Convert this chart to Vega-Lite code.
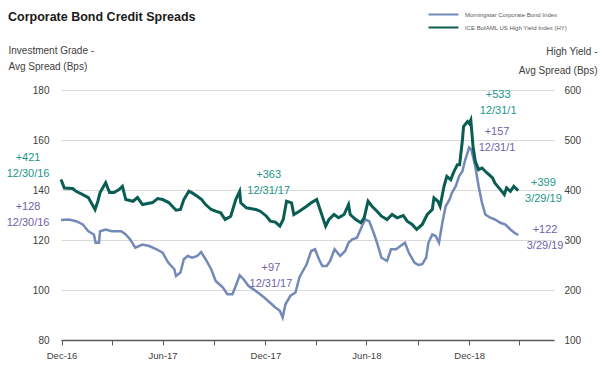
{
  "$schema": "https://vega.github.io/schema/vega-lite/v6.json",
  "width": 493,
  "height": 250,
  "autosize": {"type": "none"},
  "padding": {"left": 61, "top": 90, "right": 46, "bottom": 48},
  "background": "white",
  "title": {
    "text": "Corporate Bond Credit Spreads",
    "anchor": "start",
    "frame": "group",
    "dx": -53,
    "dy": 21,
    "font": "Liberation Sans Narrow, Liberation Sans, sans-serif",
    "fontSize": 12.5,
    "fontWeight": "bold",
    "color": "#1a1a1a"
  },
  "config": {
    "view": {"stroke": null},
    "font": "Liberation Sans Narrow, Liberation Sans, sans-serif"
  },
  "datasets": {
    "series": [
      {"d": "2016-12-30", "s": "IG", "v": 128},
      {"d": "2017-01-13", "s": "IG", "v": 128.2},
      {"d": "2017-01-26", "s": "IG", "v": 127.5},
      {"d": "2017-02-07", "s": "IG", "v": 126.2},
      {"d": "2017-02-17", "s": "IG", "v": 123.5},
      {"d": "2017-02-27", "s": "IG", "v": 122.2},
      {"d": "2017-03-02", "s": "IG", "v": 118.9},
      {"d": "2017-03-08", "s": "IG", "v": 118.9},
      {"d": "2017-03-10", "s": "IG", "v": 123.5},
      {"d": "2017-03-20", "s": "IG", "v": 124.2},
      {"d": "2017-03-31", "s": "IG", "v": 123.5},
      {"d": "2017-04-17", "s": "IG", "v": 123.5},
      {"d": "2017-04-25", "s": "IG", "v": 122.2},
      {"d": "2017-05-03", "s": "IG", "v": 120.2},
      {"d": "2017-05-12", "s": "IG", "v": 116.9},
      {"d": "2017-05-25", "s": "IG", "v": 118.2},
      {"d": "2017-06-06", "s": "IG", "v": 117.6},
      {"d": "2017-06-19", "s": "IG", "v": 116.3},
      {"d": "2017-06-30", "s": "IG", "v": 114.9},
      {"d": "2017-07-10", "s": "IG", "v": 111},
      {"d": "2017-07-21", "s": "IG", "v": 108.3},
      {"d": "2017-07-24", "s": "IG", "v": 105.6},
      {"d": "2017-08-01", "s": "IG", "v": 107},
      {"d": "2017-08-07", "s": "IG", "v": 112.3},
      {"d": "2017-08-14", "s": "IG", "v": 113.6},
      {"d": "2017-08-22", "s": "IG", "v": 112.9},
      {"d": "2017-08-31", "s": "IG", "v": 113.6},
      {"d": "2017-09-07", "s": "IG", "v": 115.2},
      {"d": "2017-09-15", "s": "IG", "v": 112.3},
      {"d": "2017-09-25", "s": "IG", "v": 108.3},
      {"d": "2017-10-03", "s": "IG", "v": 103.6},
      {"d": "2017-10-16", "s": "IG", "v": 101},
      {"d": "2017-10-24", "s": "IG", "v": 98.3},
      {"d": "2017-11-02", "s": "IG", "v": 98.3},
      {"d": "2017-11-08", "s": "IG", "v": 101.6},
      {"d": "2017-11-15", "s": "IG", "v": 105.9},
      {"d": "2017-11-22", "s": "IG", "v": 104.3},
      {"d": "2017-12-01", "s": "IG", "v": 101.6},
      {"d": "2017-12-14", "s": "IG", "v": 99.6},
      {"d": "2017-12-29", "s": "IG", "v": 97},
      {"d": "2018-01-08", "s": "IG", "v": 95},
      {"d": "2018-01-18", "s": "IG", "v": 93},
      {"d": "2018-01-26", "s": "IG", "v": 91.7},
      {"d": "2018-01-31", "s": "IG", "v": 89},
      {"d": "2018-02-05", "s": "IG", "v": 94.3},
      {"d": "2018-02-14", "s": "IG", "v": 97.7},
      {"d": "2018-02-23", "s": "IG", "v": 99},
      {"d": "2018-03-02", "s": "IG", "v": 105},
      {"d": "2018-03-05", "s": "IG", "v": 106.3},
      {"d": "2018-03-15", "s": "IG", "v": 110.3},
      {"d": "2018-03-23", "s": "IG", "v": 115.6},
      {"d": "2018-03-30", "s": "IG", "v": 116.3},
      {"d": "2018-04-06", "s": "IG", "v": 112.3},
      {"d": "2018-04-12", "s": "IG", "v": 109.6},
      {"d": "2018-04-20", "s": "IG", "v": 109.6},
      {"d": "2018-04-26", "s": "IG", "v": 111.6},
      {"d": "2018-05-04", "s": "IG", "v": 116.3},
      {"d": "2018-05-14", "s": "IG", "v": 113.6},
      {"d": "2018-05-23", "s": "IG", "v": 115.6},
      {"d": "2018-05-29", "s": "IG", "v": 118.9},
      {"d": "2018-06-04", "s": "IG", "v": 120.2},
      {"d": "2018-06-13", "s": "IG", "v": 120.9},
      {"d": "2018-06-22", "s": "IG", "v": 125.5},
      {"d": "2018-06-28", "s": "IG", "v": 128.2},
      {"d": "2018-07-05", "s": "IG", "v": 127.5},
      {"d": "2018-07-13", "s": "IG", "v": 122.9},
      {"d": "2018-07-19", "s": "IG", "v": 118.9},
      {"d": "2018-07-27", "s": "IG", "v": 112.9},
      {"d": "2018-08-06", "s": "IG", "v": 111.6},
      {"d": "2018-08-13", "s": "IG", "v": 116.3},
      {"d": "2018-08-22", "s": "IG", "v": 116.3},
      {"d": "2018-08-30", "s": "IG", "v": 117.6},
      {"d": "2018-09-07", "s": "IG", "v": 118.9},
      {"d": "2018-09-14", "s": "IG", "v": 114.9},
      {"d": "2018-09-24", "s": "IG", "v": 111},
      {"d": "2018-10-01", "s": "IG", "v": 110},
      {"d": "2018-10-08", "s": "IG", "v": 110.3},
      {"d": "2018-10-15", "s": "IG", "v": 112.9},
      {"d": "2018-10-19", "s": "IG", "v": 118.9},
      {"d": "2018-10-26", "s": "IG", "v": 122.2},
      {"d": "2018-11-01", "s": "IG", "v": 121.6},
      {"d": "2018-11-07", "s": "IG", "v": 118.9},
      {"d": "2018-11-13", "s": "IG", "v": 126.9},
      {"d": "2018-11-19", "s": "IG", "v": 133.5},
      {"d": "2018-11-26", "s": "IG", "v": 136.2},
      {"d": "2018-11-30", "s": "IG", "v": 138.8},
      {"d": "2018-12-07", "s": "IG", "v": 141.5},
      {"d": "2018-12-13", "s": "IG", "v": 145.5},
      {"d": "2018-12-19", "s": "IG", "v": 147.5},
      {"d": "2018-12-24", "s": "IG", "v": 152.1},
      {"d": "2018-12-31", "s": "IG", "v": 157},
      {"d": "2019-01-04", "s": "IG", "v": 156.1},
      {"d": "2019-01-11", "s": "IG", "v": 149.4},
      {"d": "2019-01-17", "s": "IG", "v": 141.5},
      {"d": "2019-01-23", "s": "IG", "v": 134.9},
      {"d": "2019-01-29", "s": "IG", "v": 130.2},
      {"d": "2019-02-07", "s": "IG", "v": 128.9},
      {"d": "2019-02-15", "s": "IG", "v": 128.2},
      {"d": "2019-02-25", "s": "IG", "v": 126.9},
      {"d": "2019-03-06", "s": "IG", "v": 126.2},
      {"d": "2019-03-15", "s": "IG", "v": 124.2},
      {"d": "2019-03-22", "s": "IG", "v": 122.9},
      {"d": "2019-03-29", "s": "IG", "v": 122},
      {"d": "2016-12-30", "s": "HY", "v": 421},
      {"d": "2017-01-05", "s": "HY", "v": 404},
      {"d": "2017-01-20", "s": "HY", "v": 403},
      {"d": "2017-01-26", "s": "HY", "v": 397.4},
      {"d": "2017-02-07", "s": "HY", "v": 390.8},
      {"d": "2017-02-17", "s": "HY", "v": 384.9},
      {"d": "2017-03-01", "s": "HY", "v": 361},
      {"d": "2017-03-06", "s": "HY", "v": 377.5},
      {"d": "2017-03-10", "s": "HY", "v": 394.8},
      {"d": "2017-03-20", "s": "HY", "v": 414.7},
      {"d": "2017-03-27", "s": "HY", "v": 394.8},
      {"d": "2017-04-04", "s": "HY", "v": 394.8},
      {"d": "2017-04-13", "s": "HY", "v": 400.8},
      {"d": "2017-04-19", "s": "HY", "v": 407.4},
      {"d": "2017-04-25", "s": "HY", "v": 380.9},
      {"d": "2017-05-08", "s": "HY", "v": 377.5},
      {"d": "2017-05-16", "s": "HY", "v": 384.9},
      {"d": "2017-05-25", "s": "HY", "v": 370.9},
      {"d": "2017-06-12", "s": "HY", "v": 374.9},
      {"d": "2017-06-21", "s": "HY", "v": 382.9},
      {"d": "2017-06-30", "s": "HY", "v": 380.9},
      {"d": "2017-07-11", "s": "HY", "v": 374.9},
      {"d": "2017-07-24", "s": "HY", "v": 359.6},
      {"d": "2017-08-01", "s": "HY", "v": 361},
      {"d": "2017-08-07", "s": "HY", "v": 380.9},
      {"d": "2017-08-16", "s": "HY", "v": 397.4},
      {"d": "2017-08-22", "s": "HY", "v": 394.2},
      {"d": "2017-08-31", "s": "HY", "v": 387.5},
      {"d": "2017-09-08", "s": "HY", "v": 380.9},
      {"d": "2017-09-15", "s": "HY", "v": 370.9},
      {"d": "2017-09-25", "s": "HY", "v": 361},
      {"d": "2017-10-03", "s": "HY", "v": 357.6},
      {"d": "2017-10-12", "s": "HY", "v": 354.4},
      {"d": "2017-10-20", "s": "HY", "v": 341},
      {"d": "2017-10-30", "s": "HY", "v": 347.6},
      {"d": "2017-11-08", "s": "HY", "v": 380.9},
      {"d": "2017-11-15", "s": "HY", "v": 397.4},
      {"d": "2017-11-17", "s": "HY", "v": 374.3},
      {"d": "2017-11-27", "s": "HY", "v": 364.3},
      {"d": "2017-12-14", "s": "HY", "v": 361},
      {"d": "2017-12-22", "s": "HY", "v": 357.6},
      {"d": "2018-01-02", "s": "HY", "v": 347.6},
      {"d": "2018-01-09", "s": "HY", "v": 337.7},
      {"d": "2018-01-18", "s": "HY", "v": 335.7},
      {"d": "2018-01-26", "s": "HY", "v": 327.7},
      {"d": "2018-02-01", "s": "HY", "v": 341},
      {"d": "2018-02-07", "s": "HY", "v": 377.5},
      {"d": "2018-02-16", "s": "HY", "v": 374.3},
      {"d": "2018-02-20", "s": "HY", "v": 351},
      {"d": "2018-03-02", "s": "HY", "v": 357.6},
      {"d": "2018-03-15", "s": "HY", "v": 367.5},
      {"d": "2018-03-23", "s": "HY", "v": 374.3},
      {"d": "2018-04-02", "s": "HY", "v": 380.9},
      {"d": "2018-04-09", "s": "HY", "v": 357.6},
      {"d": "2018-04-18", "s": "HY", "v": 327.7},
      {"d": "2018-04-24", "s": "HY", "v": 341},
      {"d": "2018-05-03", "s": "HY", "v": 351},
      {"d": "2018-05-11", "s": "HY", "v": 344.4},
      {"d": "2018-05-21", "s": "HY", "v": 351},
      {"d": "2018-05-29", "s": "HY", "v": 370.9},
      {"d": "2018-06-01", "s": "HY", "v": 351},
      {"d": "2018-06-11", "s": "HY", "v": 341},
      {"d": "2018-06-20", "s": "HY", "v": 334.5},
      {"d": "2018-06-26", "s": "HY", "v": 344.4},
      {"d": "2018-07-03", "s": "HY", "v": 377.5},
      {"d": "2018-07-10", "s": "HY", "v": 367.5},
      {"d": "2018-07-19", "s": "HY", "v": 357.6},
      {"d": "2018-07-27", "s": "HY", "v": 347.6},
      {"d": "2018-08-06", "s": "HY", "v": 341},
      {"d": "2018-08-15", "s": "HY", "v": 351},
      {"d": "2018-08-24", "s": "HY", "v": 344.4},
      {"d": "2018-09-04", "s": "HY", "v": 349},
      {"d": "2018-09-11", "s": "HY", "v": 337.7},
      {"d": "2018-09-20", "s": "HY", "v": 331.1},
      {"d": "2018-09-28", "s": "HY", "v": 321.1},
      {"d": "2018-10-08", "s": "HY", "v": 331.1},
      {"d": "2018-10-17", "s": "HY", "v": 351},
      {"d": "2018-10-26", "s": "HY", "v": 361},
      {"d": "2018-10-29", "s": "HY", "v": 384.3},
      {"d": "2018-11-05", "s": "HY", "v": 377.5},
      {"d": "2018-11-09", "s": "HY", "v": 367.5},
      {"d": "2018-11-16", "s": "HY", "v": 407.4},
      {"d": "2018-11-21", "s": "HY", "v": 427.3},
      {"d": "2018-11-28", "s": "HY", "v": 420.7},
      {"d": "2018-12-04", "s": "HY", "v": 437.3},
      {"d": "2018-12-10", "s": "HY", "v": 450.6},
      {"d": "2018-12-14", "s": "HY", "v": 450.6},
      {"d": "2018-12-19", "s": "HY", "v": 500.4},
      {"d": "2018-12-21", "s": "HY", "v": 526.9},
      {"d": "2018-12-28", "s": "HY", "v": 536.9},
      {"d": "2018-12-31", "s": "HY", "v": 533},
      {"d": "2019-01-03", "s": "HY", "v": 540.2},
      {"d": "2019-01-07", "s": "HY", "v": 487},
      {"d": "2019-01-11", "s": "HY", "v": 457.2},
      {"d": "2019-01-17", "s": "HY", "v": 440.6},
      {"d": "2019-01-23", "s": "HY", "v": 444},
      {"d": "2019-02-01", "s": "HY", "v": 434.1},
      {"d": "2019-02-11", "s": "HY", "v": 424.1},
      {"d": "2019-02-15", "s": "HY", "v": 414.1},
      {"d": "2019-02-25", "s": "HY", "v": 400.8},
      {"d": "2019-03-04", "s": "HY", "v": 390.8},
      {"d": "2019-03-08", "s": "HY", "v": 404.2},
      {"d": "2019-03-15", "s": "HY", "v": 397.4},
      {"d": "2019-03-21", "s": "HY", "v": 407.4},
      {"d": "2019-03-27", "s": "HY", "v": 400.8},
      {"d": "2019-03-29", "s": "HY", "v": 399}
    ],
    "notes": [
      {"d": "2016-11-01", "v": 155.2, "s": "HY", "t": "+421\n12/30/16"},
      {"d": "2016-11-01", "v": 135.6, "s": "IG", "t": "+128\n12/30/16"},
      {"d": "2018-01-06", "v": 148.4, "s": "HY", "t": "+363\n12/31/17"},
      {"d": "2018-01-10", "v": 111.2, "s": "IG", "t": "+97\n12/31/17"},
      {"d": "2019-02-21", "v": 180.4, "s": "HY", "t": "+533\n12/31/1"},
      {"d": "2019-02-19", "v": 165.6, "s": "IG", "t": "+157\n12/31/1"},
      {"d": "2019-05-13", "v": 145.2, "s": "HY", "t": "+399\n3/29/19"},
      {"d": "2019-05-16", "v": 126.4, "s": "IG", "t": "+122\n3/29/19"}
    ]
  },
  "encoding": {
    "x": {
      "field": "d",
      "type": "temporal",
      "scale": {
        "type": "utc",
        "domain": [
          {"utc": true, "year": 2016, "month": 12, "date": 30},
          {"utc": true, "year": 2019, "month": 6, "date": 1}
        ]
      },
      "axis": {
        "title": null,
        "grid": false,
        "values": [
          {"utc": true, "year": 2016, "month": 12, "date": 31},
          {"utc": true, "year": 2017, "month": 3, "date": 31},
          {"utc": true, "year": 2017, "month": 6, "date": 30},
          {"utc": true, "year": 2017, "month": 9, "date": 30},
          {"utc": true, "year": 2017, "month": 12, "date": 31},
          {"utc": true, "year": 2018, "month": 3, "date": 31},
          {"utc": true, "year": 2018, "month": 6, "date": 30},
          {"utc": true, "year": 2018, "month": 9, "date": 30},
          {"utc": true, "year": 2018, "month": 12, "date": 31},
          {"utc": true, "year": 2019, "month": 3, "date": 31}
        ],
        "labelExpr": "(utcmonth(datum.value) == 11 || utcmonth(datum.value) == 5) ? utcFormat(datum.value, '%b-%y') : ''",
        "labelOverlap": false,
        "labelFlush": false,
        "labelFont": "Liberation Sans Narrow, Liberation Sans, sans-serif",
        "labelFontSize": 9.5,
        "labelColor": "#404040",
        "labelPadding": 5,
        "domainColor": "#595959",
        "domainWidth": 1.5,
        "tickColor": "#595959",
        "tickSize": 5,
        "tickWidth": 1
      }
    }
  },
  "layer": [
    {
      "data": {"name": "series"},
      "transform": [{"filter": "datum.s == 'IG'"}],
      "mark": {"type": "line", "strokeWidth": 2.5, "clip": false},
      "encoding": {
        "y": {
          "field": "v",
          "type": "quantitative",
          "scale": {"domain": [80, 180], "nice": false, "zero": false},
          "axis": {
            "orient": "left",
            "values": [80, 100, 120, 140, 160, 180],
            "grid": true,
            "gridColor": "#d9d9d9",
            "gridWidth": 1,
            "domain": false,
            "ticks": false,
            "labelPadding": 12,
            "labelFont": "Liberation Sans Narrow, Liberation Sans, sans-serif",
            "labelFontSize": 10,
            "labelColor": "#404040",
            "title": ["Investment Grade -", "Avg Spread (Bps)"],
            "titleFont": "Liberation Sans Narrow, Liberation Sans, sans-serif",
            "titleFontSize": 10,
            "titleFontWeight": "normal",
            "titleColor": "#404040",
            "titleAngle": 0,
            "titleAlign": "left",
            "titleBaseline": "top",
            "titleX": -53,
            "titleY": -45,
            "titleLineHeight": 16
          }
        },
        "color": {
          "field": "s",
          "type": "nominal",
          "scale": {"domain": ["IG", "HY"], "range": ["#7389b8", "#0a5d52"]},
          "legend": {
            "orient": "none",
            "legendX": 374,
            "legendY": -84,
            "title": null,
            "symbolType": "M-2,0H2",
            "symbolSize": 225,
            "symbolStrokeWidth": 2,
            "labelFont": "Liberation Sans",
            "labelFontSize": 6,
            "labelColor": "#595959",
            "labelOffset": 13,
            "rowPadding": 0,
            "labelExpr": "datum.label == 'IG' ? 'Morningstar Corporate Bond Index' : 'ICE BofAML US High Yield Index (HY)'"
          }
        }
      }
    },
    {
      "data": {"name": "series"},
      "transform": [{"filter": "datum.s == 'HY'"}],
      "mark": {"type": "line", "strokeWidth": 3, "clip": false},
      "encoding": {
        "y": {
          "field": "v",
          "type": "quantitative",
          "scale": {"domain": [100, 600], "nice": false, "zero": false},
          "axis": {
            "orient": "right",
            "values": [100, 200, 300, 400, 500, 600],
            "grid": false,
            "domain": false,
            "ticks": false,
            "labelPadding": 10,
            "labelFont": "Liberation Sans Narrow, Liberation Sans, sans-serif",
            "labelFontSize": 10,
            "labelColor": "#404040",
            "title": ["High Yield -", "Avg Spread (Bps)"],
            "titleFont": "Liberation Sans Narrow, Liberation Sans, sans-serif",
            "titleFontSize": 10,
            "titleFontWeight": "normal",
            "titleColor": "#404040",
            "titleAngle": 0,
            "titleAlign": "right",
            "titleBaseline": "top",
            "titleX": 43,
            "titleY": -44,
            "titleLineHeight": 19
          }
        },
        "color": {
          "field": "s",
          "type": "nominal",
          "scale": {"domain": ["IG", "HY"], "range": ["#7389b8", "#0a5d52"]}
        }
      }
    },
    {
      "data": {"name": "notes"},
      "mark": {
        "type": "text",
        "align": "center",
        "baseline": "top",
        "lineBreak": "\n",
        "lineHeight": 16,
        "font": "Liberation Sans Narrow, Liberation Sans, sans-serif",
        "fontSize": 11
      },
      "encoding": {
        "y": {
          "field": "v",
          "type": "quantitative",
          "scale": {"domain": [80, 180], "nice": false, "zero": false},
          "axis": null
        },
        "text": {"field": "t"},
        "color": {
          "condition": {"test": "datum.s == 'HY'", "value": "#22958a"},
          "value": "#6f62a8"
        }
      }
    }
  ],
  "resolve": {"scale": {"y": "independent"}}
}
